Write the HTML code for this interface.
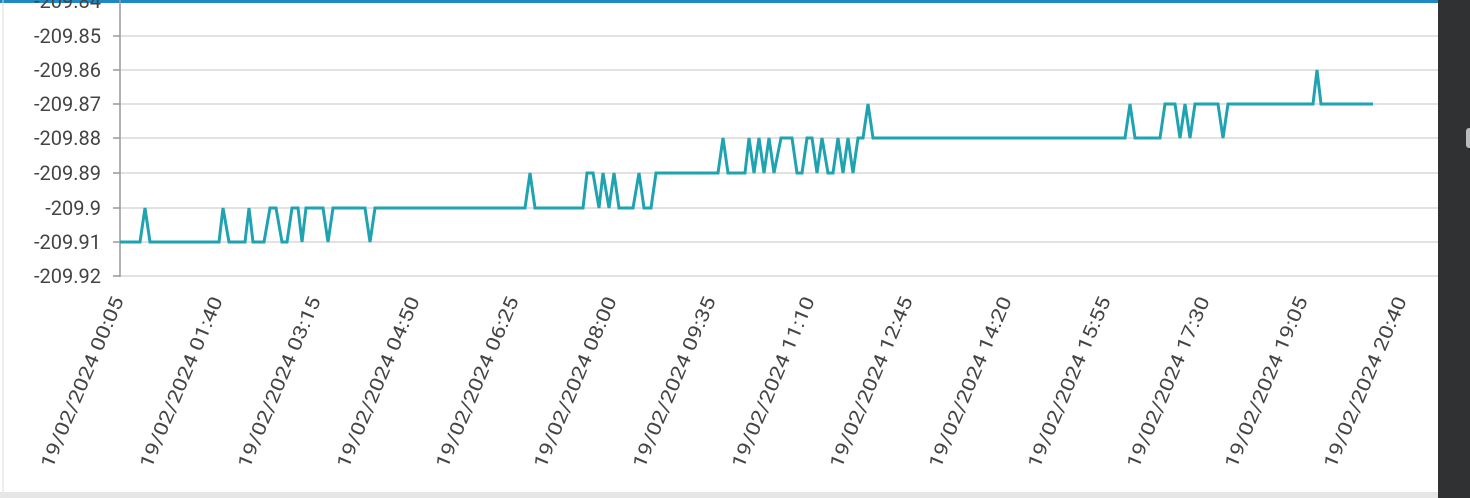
<!DOCTYPE html>
<html><head><style>
html,body{margin:0;padding:0;width:1470px;height:498px;overflow:hidden;background:#fff}
</style></head><body>
<svg width="1470" height="498" xmlns="http://www.w3.org/2000/svg" font-family="Roboto,'Liberation Sans',sans-serif">
<rect x="0" y="0" width="1470" height="498" fill="#fff"/>
<rect x="0" y="0" width="1438" height="3" fill="#1f88c6"/>
<rect x="1438" y="0" width="32" height="498" fill="#2f3133"/>
<rect x="1466" y="128" width="6" height="20" rx="3" fill="#bbb"/>
<rect x="0" y="492" width="1438" height="6" fill="#e6e6e6"/>
<line x1="3" y1="0" x2="3" y2="492" stroke="#ddd" stroke-width="1"/>
<g stroke="#e2e2e2" stroke-width="2">
<line x1="120" y1="36" x2="1438" y2="36"/>
<line x1="120" y1="70" x2="1438" y2="70"/>
<line x1="120" y1="104" x2="1438" y2="104"/>
<line x1="120" y1="138" x2="1438" y2="138"/>
<line x1="120" y1="173" x2="1438" y2="173"/>
<line x1="120" y1="208" x2="1438" y2="208"/>
<line x1="120" y1="242" x2="1438" y2="242"/>
<line x1="120" y1="276" x2="1438" y2="276"/>
</g>
<g stroke="#999" stroke-width="1.5">
<line x1="120" y1="0" x2="120" y2="277"/>
<line x1="113" y1="36" x2="120" y2="36"/><line x1="113" y1="70" x2="120" y2="70"/>
<line x1="113" y1="104" x2="120" y2="104"/><line x1="113" y1="138" x2="120" y2="138"/>
<line x1="113" y1="173" x2="120" y2="173"/><line x1="113" y1="208" x2="120" y2="208"/>
<line x1="113" y1="242" x2="120" y2="242"/><line x1="113" y1="276" x2="120" y2="276"/>
</g>
<g fill="#444" font-size="20" text-anchor="end">
<text x="101" y="8">-209.84</text>
<text x="101" y="43">-209.85</text>
<text x="101" y="77">-209.86</text>
<text x="101" y="111">-209.87</text>
<text x="101" y="145">-209.88</text>
<text x="101" y="180">-209.89</text>
<text x="101" y="215">-209.9</text>
<text x="101" y="249">-209.91</text>
<text x="101" y="283">-209.92</text>
</g>
<polyline fill="none" stroke="#1fa3b1" stroke-width="3" stroke-linejoin="miter" points="
120,242 140,242 145,208 150,242 219,242 223,208 229,242 245,242 249,208 253,242 264,242 270,208 276,208 282,242 287,242 292,208 298,208 302,242 306,208 323,208 328,242 333,208 365,208 370,242 375,208
525,208 530,173 535,208 583,208 587,173 593,173 599,208 603,173 609,208 614,173 619,208 633,208 639,173 644,208 651,208 656,173 718,173 723,138 728,173 745,173 749,138 754,173 759,138 764,173 769,138 774,173 781,138 792,138 797,173 802,173 807,138 812,138 817,173 822,138 828,173 833,173 838,138 843,173 848,138 853,173 858,138 863,138 868,104 873,138
1125,138 1130,104 1135,138 1160,138 1165,104 1175,104 1180,138 1185,104 1190,138 1195,104 1218,104 1223,138 1228,104 1313,104 1317,70 1321,104 1373,104"/>
<g fill="#444" font-size="19" text-anchor="end">
<text transform="translate(124,300) rotate(-67)" textLength="184" lengthAdjust="spacingAndGlyphs">19/02/2024 00:05</text>
<text transform="translate(223,300) rotate(-67)" textLength="184" lengthAdjust="spacingAndGlyphs">19/02/2024 01:40</text>
<text transform="translate(321,300) rotate(-67)" textLength="184" lengthAdjust="spacingAndGlyphs">19/02/2024 03:15</text>
<text transform="translate(420,300) rotate(-67)" textLength="184" lengthAdjust="spacingAndGlyphs">19/02/2024 04:50</text>
<text transform="translate(519,300) rotate(-67)" textLength="184" lengthAdjust="spacingAndGlyphs">19/02/2024 06:25</text>
<text transform="translate(617,300) rotate(-67)" textLength="184" lengthAdjust="spacingAndGlyphs">19/02/2024 08:00</text>
<text transform="translate(716,300) rotate(-67)" textLength="184" lengthAdjust="spacingAndGlyphs">19/02/2024 09:35</text>
<text transform="translate(815,300) rotate(-67)" textLength="184" lengthAdjust="spacingAndGlyphs">19/02/2024 11:10</text>
<text transform="translate(913,300) rotate(-67)" textLength="184" lengthAdjust="spacingAndGlyphs">19/02/2024 12:45</text>
<text transform="translate(1012,300) rotate(-67)" textLength="184" lengthAdjust="spacingAndGlyphs">19/02/2024 14:20</text>
<text transform="translate(1111,300) rotate(-67)" textLength="184" lengthAdjust="spacingAndGlyphs">19/02/2024 15:55</text>
<text transform="translate(1210,300) rotate(-67)" textLength="184" lengthAdjust="spacingAndGlyphs">19/02/2024 17:30</text>
<text transform="translate(1308,300) rotate(-67)" textLength="184" lengthAdjust="spacingAndGlyphs">19/02/2024 19:05</text>
<text transform="translate(1407,300) rotate(-67)" textLength="184" lengthAdjust="spacingAndGlyphs">19/02/2024 20:40</text>
</g>
</svg>
</body></html>
